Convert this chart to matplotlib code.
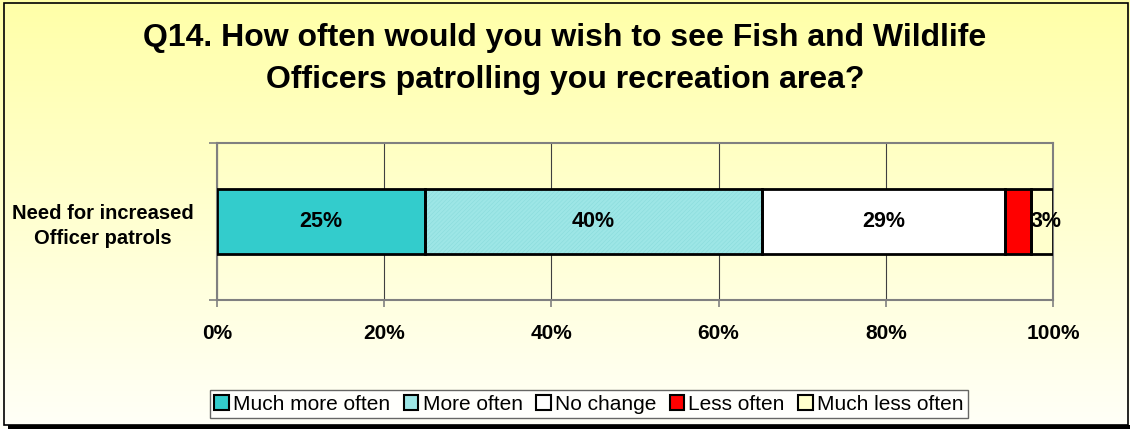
import numpy as np
import matplotlib.pyplot as plt
from matplotlib.patches import Rectangle

# data
category = ["Need for increased\nOfficer patrols"]
series_names = ["Much more often", "More often", "No change", "Less often", "Much less often"]
series_values = [24.9, 40.3, 29.1, 3.1, 2.6]
bar_labels = ["25%", "40%", "29%", "", "3%"]
x_ticks = [0, 20, 40, 60, 80, 100]

colors = ["#33CCCC", "#9DE6E6", "#FFFFFF", "#FF0000", "#FFFFCC"]
hatches = [None, "////////", None, None, None]
hatch_col = "#8ADCDC"

title = "Q14. How often would you wish to see Fish and Wildlife\nOfficers patrolling you recreation area?"

plt.rcParams['font.family'] = ['Liberation Sans', 'DejaVu Sans']
plt.rcParams['hatch.linewidth'] = 0.4

fig = plt.figure(figsize=(11.3, 4.29), dpi=100)

# yellow gradient background
bg = fig.add_axes([0, 0, 1, 1], zorder=-10)
grad = np.linspace(0, 1, 256).reshape(-1, 1)
top = np.array([255, 255, 168]) / 255
bot = np.array([255, 255, 248]) / 255
img = top + (bot - top) * grad[:, :, None]
bg.imshow(img, aspect='auto', extent=[0, 1, 0, 1])
bg.set_xlim(0, 1)
bg.set_ylim(0, 1)
bg.axis('off')
# frame with a shadow at the bottom
bg.add_patch(Rectangle((4 / 1130, 4 / 429), 1124 / 1130, 422 / 429, fill=False,
                       edgecolor='black', linewidth=1.2))
bg.add_patch(Rectangle((8 / 1130, 0), 1122 / 1130, 4 / 429, color='black', linewidth=0))

fig.text(0.5, 1 - 59 / 429, title, ha='center', va='center', fontsize=23,
         fontweight='bold', linespacing=1.55)

ax = fig.add_axes([217 / 1130, 1 - 300 / 429, 836 / 1130, 157 / 429])
ax.set_facecolor('none')

left = 0
handles = []
for i, v in enumerate(series_values):
    # fill (hatch takes the edge colour, so keep it light here)
    ax.barh(0, v, left=left, height=0.41, color=colors[i], hatch=hatches[i],
            edgecolor=hatch_col if hatches[i] else colors[i], linewidth=0, zorder=3)
    # black outline
    ax.barh(0, v, left=left, height=0.41, fill=False, edgecolor='black',
            linewidth=2, zorder=3.5)
    handles.append(Rectangle((0, 0), 1, 1, facecolor=colors[i], edgecolor='black',
                             linewidth=1.5))
    if bar_labels[i]:
        cx = left + v / 2
        if i == len(series_values) - 1:
            cx = left + v / 2 + 0.5
        ax.text(cx, 0, bar_labels[i], ha='center', va='center', fontsize=15.5,
                fontweight='bold', zorder=4)
    left += v

ax.set_xlim(0, 100)
ax.set_ylim(-0.5, 0.5)
ax.set_xticks(x_ticks)
ax.set_xticklabels([f"{t}%" for t in x_ticks], fontsize=15, fontweight='bold')
ax.tick_params(axis='x', direction='out', length=5, color='#808080', width=1.2, pad=12)
ax.set_yticks([-0.5, 0.5])
ax.set_yticklabels([])
ax.tick_params(axis='y', which='major', direction='out', length=6, color='#808080', width=1.2)
ax.set_yticks([0], minor=True)
ax.set_yticklabels(category, minor=True, fontsize=14.5, fontweight='bold', ha='center',
                   linespacing=1.4)
ax.tick_params(axis='y', which='minor', length=0, pad=82)
ax.xaxis.grid(True, color='#404040', linewidth=0.8, zorder=0)
for s in ax.spines.values():
    s.set_color('#808080')
    s.set_linewidth(1.5)

leg = ax.legend(handles, series_names, loc='center', bbox_to_anchor=(589 / 1130, 1 - 404 / 429),
                bbox_transform=fig.transFigure, ncol=5, fontsize=15,
                frameon=True, fancybox=False, handlelength=0.7, handleheight=0.7,
                handletextpad=0.2, columnspacing=0.65, borderpad=0.2, borderaxespad=0)
leg.get_frame().set_edgecolor('#404040')
leg.get_frame().set_linewidth(1.0)
leg.get_frame().set_facecolor('white')

fig.savefig("out.png", dpi=100)
